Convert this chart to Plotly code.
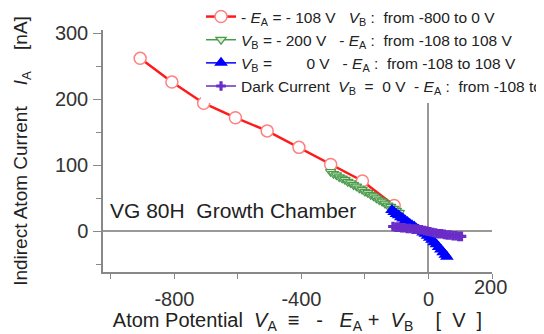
import plotly.graph_objects as go

# Red: -E_A = -108 V, V_B from -800 to 0 V
red_x = [-908, -808, -708, -608, -508, -408, -308, -208, -108]
red_y = [262, 226, 194, 172, 152, 127, 101, 76, 39]

# Green: V_B = -200 V, -E_A from -108 to 108 V
green_x = [-308, -299, -290, -281, -272, -263, -254, -245, -236, -227, -218, -209, -200,
           -191, -182, -173, -164, -155, -146, -137, -128, -119, -110, -101, -92]
green_y = [90, 87, 85, 82, 80, 78, 75, 73, 70, 68, 65, 63, 60,
           58, 55, 53, 50, 47, 45, 42, 39, 37, 34, 31, 28]

# Blue: V_B = 0 V, -E_A from -108 to 108 V
blue_x = [-115, -108, -101, -94, -87, -80, -73, -66, -59, -52, -45, -38, -31,
          -24, -17, -10, -3, 4, 11, 18, 25, 32, 39, 46, 53, 58]
blue_y = [32, 29, 26, 24, 21, 19, 16, 14, 11, 9, 7, 4, 2,
          0, -2, -4, -7, -10, -13, -17, -20, -24, -28, -32, -36, -39]

# Purple: dark current
dark_x = [-112, -103, -94, -85, -76, -67, -58, -49, -40, -31, -22, -13, -4,
          5, 14, 23, 32, 41, 50, 59, 68, 77, 86, 95, 104]
dark_y = [7, 6, 6, 5, 5, 4, 4, 3, 3, 2, 2, 1, 0,
          -1, -2, -3, -4, -4, -5, -6, -6, -7, -7, -8, -8]

x_tickvals = [-1000, -800, -600, -400, -200, 0, 200]
x_ticktext = ["", "-800", "", "-400", "", "0", ""]
y_tickvals = [0, 100, 200, 300]

FONT = "Liberation Sans, Arial, sans-serif"
S = "\u00a0"

fig = go.Figure()
fig.add_trace(go.Scatter(
    x=red_x, y=red_y, mode="lines+markers",
    name=f"- <i>E</i><sub>A</sub> = - 108 V{S*3}<i>V</i><sub>B</sub> :{S}{S}from -800 to 0 V",
    line=dict(color="#ff1a1a", width=2.5),
    marker=dict(symbol="circle", size=12, color="white", line=dict(color="#ff8080", width=1.5)),
))
fig.add_trace(go.Scatter(
    x=green_x, y=green_y, mode="lines+markers",
    name=f"<i>V</i><sub>B</sub> = - 200 V{S*3}- <i>E</i><sub>A</sub> :{S}{S}from -108 to 108 V",
    line=dict(color="#4a9a4a", width=1.5),
    marker=dict(symbol="triangle-down", size=9, color="#d8ecd8", line=dict(color="#4a9a4a", width=1.2)),
))
fig.add_trace(go.Scatter(
    x=blue_x, y=blue_y, mode="lines+markers",
    name=f"<i>V</i><sub>B</sub> ={S*8}0 V{S*3}- <i>E</i><sub>A</sub> :{S}{S}from -108 to 108 V",
    line=dict(color="#0000ff", width=1.5),
    marker=dict(symbol="triangle-up", size=12, color="#0000ff"),
))
fig.add_trace(go.Scatter(
    x=dark_x, y=dark_y, mode="lines+markers",
    name=f"Dark Current{S}{S}<i>V</i><sub>B</sub>{S}{S}={S}{S}0 V{S}{S}- <i>E</i><sub>A</sub> :{S}{S}from -108 to 108 V",
    line=dict(color="#6a2cc8", width=1.5),
    marker=dict(symbol="cross", size=8, color="#6a2cc8"),
))

fig.add_annotation(x=-1009, y=32, xref="x", yref="y", text=f"VG 80H{S}{S}Growth Chamber",
                   showarrow=False, xanchor="left", yanchor="middle",
                   font=dict(family=FONT, size=21, color="#222"))
fig.add_annotation(x=194, y=-62, xref="x", yref="y", text="200", showarrow=False,
                   xanchor="center", yanchor="top", yshift=-2,
                   font=dict(family=FONT, size=20, color="#333"))

# The page has an 8px body margin, so the figure is shifted by 8px and sized to fit.
fig.update_layout(
    width=536, height=326,
    margin=dict(l=95, r=52, t=22, b=62, autoexpand=False),
    paper_bgcolor="white", plot_bgcolor="white",
    font=dict(family=FONT, color="#333"),
    showlegend=True,
    legend=dict(x=0.252, xref="paper", y=1.124, yref="paper", xanchor="left", yanchor="top",
                bgcolor="white", borderwidth=0, font=dict(size=15.5, color="#222"),
                tracegroupgap=0),
    xaxis=dict(range=[-1025, 200], tickvals=x_tickvals, ticktext=x_ticktext,
               ticks="outside", ticklen=5, tickcolor="#888", showline=True, linecolor="#888",
               linewidth=1.5, showgrid=False, zeroline=True, zerolinecolor="#999", zerolinewidth=1.5,
               tickfont=dict(size=20, color="#333"), ticklabelstandoff=3,
               title=dict(text=(f"Atom Potential{S}{S}<i>V</i><sub>A</sub>{S}{S}≡{S}{S}{S}-{S}{S}{S}"
                                f"<i>E</i><sub>A</sub>{S}+{S}{S}<i>V</i><sub>B</sub>{S*4}[{S}{S}V{S}{S}]"),
                          font=dict(size=20, color="#222"), standoff=0)),
    yaxis=dict(range=[-62, 305], tickvals=y_tickvals,
               ticks="outside", ticklen=8, tickcolor="#888", showline=True, linecolor="#888",
               linewidth=1.5, showgrid=False, zeroline=True, zerolinecolor="#999", zerolinewidth=1.5,
               minor=dict(ticks="outside", ticklen=5, tickcolor="#888", tickvals=[-50, 50, 150, 250]),
               tickfont=dict(size=20, color="#333"), ticklabelstandoff=1,
               title=dict(text=f"Indirect Atom Current{S*4}<i>I</i><sub>A</sub>{S*4}[nA]",
                          font=dict(size=19, color="#222"), standoff=22)),
)
fig.write_html("out.html")
